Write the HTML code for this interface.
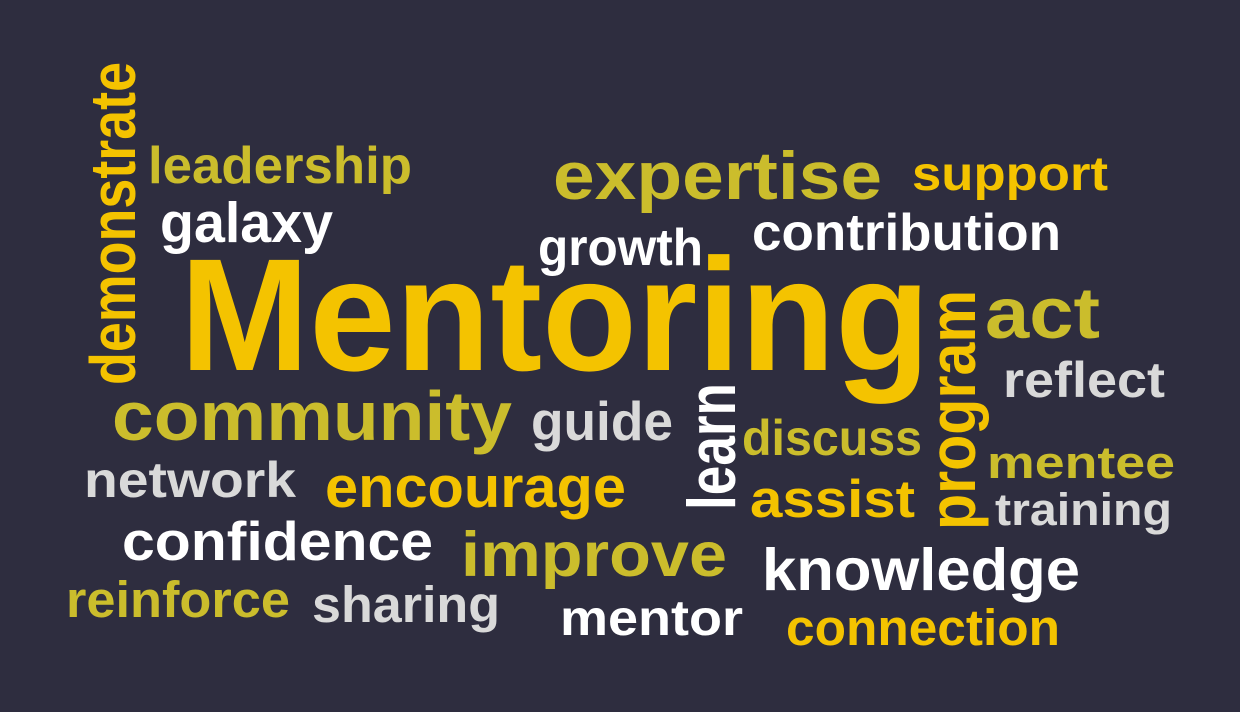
<!DOCTYPE html>
<html>
<head>
<meta charset="utf-8">
<style>
html,body{margin:0;padding:0;background:#2e2d3f;}
svg{display:block;}
text{font-family:"Liberation Sans","DejaVu Sans",sans-serif;font-weight:bold;}
</style>
</head>
<body>
<svg id="cloud" width="1240" height="712" viewBox="0 0 1240 712" xmlns="http://www.w3.org/2000/svg">
<rect x="0" y="0" width="1240" height="712" fill="#2e2d3f"/>
<g id="words"></g>
</svg>
<script>
const words = ["demonstrate","leadership","galaxy","expertise","support","growth","contribution","Mentoring","program","act","reflect","community","guide","learn","discuss","network","encourage","mentee","assist","training","confidence","improve","knowledge","reinforce","sharing","mentor","connection"];
const tones = ["y","o","w","o","y","w","w","y","y","o","g","o","g","w","o","g","y","o","y","g","w","o","w","o","g","w","y"];
const X = [135,148,160,553,912,538,752,180,975,985,1003,112,531,735,742,84,325,987,750,995,122,461,762,66,312,560,786];
const Y = [385,183,242,199,190,265,250,370,530,338,397,440,440,510,455,497,507,478,517,525,560,576,590,617,622,635,645];
const W = [323,264,173,329,196,165,309,750,240,115,162,400,142,127,180,212,301,188,165,177,311,266,318,224,188,183,274];
const S = [64,52,57,68,48,52,52,160,66,72,50,70,55,68,50,50,58,45,53,45,55,63,59,51,51,50,51];
const V = [1,0,0,0,0,0,0,0,1,0,0,0,0,1,0,0,0,0,0,0,0,0,0,0,0,0,0];
const colors = {y:"#f4c300",o:"#cbbd2c",w:"#ffffff",g:"#d9d9d9"};
const g = document.getElementById('words');
words.forEach((w,i)=>{
  const t = document.createElementNS('http://www.w3.org/2000/svg','text');
  
  
  t.setAttribute('x', X[i]);
  t.setAttribute('y', Y[i]);
  t.setAttribute('font-size', S[i]);
  t.setAttribute('fill', colors[tones[i]]);
  t.setAttribute('textLength', W[i]);
  t.setAttribute('lengthAdjust', 'spacingAndGlyphs');
  if (V[i]) t.setAttribute('transform', 'rotate(-90 ' + X[i] + ' ' + Y[i] + ')');
  t.textContent = w;
  g.appendChild(t);
});
</script>
</body>
</html>
